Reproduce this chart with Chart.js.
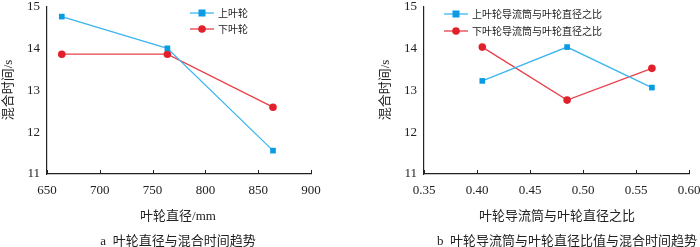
<!DOCTYPE html>
<html><head><meta charset="utf-8">
<script src="https://cdn.jsdelivr.net/npm/chart.js@4/dist/chart.umd.min.js"></script>
<style>
body{margin:0;background:#fff;width:700px;height:247px;overflow:hidden;position:relative;font-family:"Liberation Serif","Noto Sans CJK SC",serif;color:#222;}
.pane{position:absolute;top:0;width:350px;height:247px;}
canvas{position:absolute;left:0;top:0;}
.t{position:absolute;font-size:13px;font-weight:normal;white-space:nowrap;transform:translate(-50%,-50%);}
</style></head><body>
<div class="pane" style="left:0"><canvas id="c1" width="350" height="247"></canvas>
<div class="t" style="left:178px;top:214px">叶轮直径/mm</div>
<div class="t" style="left:178px;top:239px">a&nbsp;&nbsp;叶轮直径与混合时间趋势</div>
</div>
<div class="pane" style="left:350px"><canvas id="c2" width="350" height="247"></canvas>
<div class="t" style="left:207px;top:214px">叶轮导流筒与叶轮直径之比</div>
<div class="t" style="left:217px;top:239px">b&nbsp;&nbsp;叶轮导流筒与叶轮直径比值与混合时间趋势</div>
</div>
<script>
// Chart a
const diameters = [664, 764, 864];
const upperA = [14.77, 14.01, 11.56];
const lowerA = [13.87, 13.87, 12.60];
const labelsA = ['上叶轮', '下叶轮'];
// Chart b
const ratios = [0.405, 0.485, 0.565];
const upperB = [13.23, 14.04, 13.07];
const lowerB = [14.04, 12.77, 13.53];
const labelsB = ['上叶轮导流筒与叶轮直径之比', '下叶轮导流筒与叶轮直径之比'];
const yTicks = [11, 12, 13, 14, 15];
const yTitle = '混合时间/s';

const BLUE_L = '#3db5ee', BLUE_M = '#0b9be3', RED_L = '#e8404a', RED_M = '#e2202b';
const FONT = '"Liberation Serif","Noto Sans CJK SC",serif';

const innerTicks = {
  id: 'innerTicks',
  afterDraw(chart) {
    const ctx = chart.ctx, x = chart.scales.x, y = chart.scales.y;
    ctx.save();
    ctx.strokeStyle = '#222'; ctx.lineWidth = 1;
    ctx.beginPath();
    x.ticks.forEach(t => {
      const px = Math.round(x.getPixelForValue(t.value)) + 0.5;
      ctx.moveTo(px, y.bottom); ctx.lineTo(px, y.bottom - 4);
    });
    ctx.stroke();
    ctx.restore();
  }
};
const customLegend = {
  id: 'customLegend',
  afterDraw(chart, args, opts) {
    const ctx = chart.ctx;
    ctx.save();
    chart.data.datasets.forEach((ds, i) => {
      const yy = opts.y + i * opts.gap;
      ctx.strokeStyle = ds.borderColor; ctx.lineWidth = 1.3;
      ctx.beginPath(); ctx.moveTo(opts.x, yy); ctx.lineTo(opts.x + 24, yy); ctx.stroke();
      ctx.fillStyle = ds.pointBackgroundColor;
      const cx = opts.x + 12;
      if (ds.pointStyle === 'rect') ctx.fillRect(cx - 3.5, yy - 3.5, 7, 7);
      else { ctx.beginPath(); ctx.arc(cx, yy, 3.8, 0, Math.PI * 2); ctx.fill(); }
      ctx.fillStyle = '#222'; ctx.font = '10px "Noto Sans CJK SC",sans-serif';
      ctx.textBaseline = 'middle';
      ctx.fillText(ds.label, opts.x + 28, yy);
    });
    // rotated y-axis title
    ctx.translate(opts.tx, 90);
    ctx.rotate(-Math.PI / 2);
    ctx.fillStyle = '#222'; ctx.font = '13px ' + FONT;
    ctx.textAlign = 'center'; ctx.textBaseline = 'middle';
    ctx.fillText(yTitle, 0, 0);
    ctx.restore();
  }
};

function make(id, xs, s1, s2, labels, xmin, xmax, step, yAxisW, rightPad, legend, fmt) {
  const mk = (vals, lbl, lc, mc, ps, r) => ({
    label: lbl, data: xs.map((x, i) => ({x, y: vals[i]})),
    borderColor: lc, borderWidth: 1.3, pointStyle: ps, pointRadius: r,
    pointBackgroundColor: mc, pointBorderColor: mc, pointBorderWidth: 0, tension: 0
  });
  return new Chart(document.getElementById(id), {
    type: 'line',
    data: { datasets: [
      mk(s1, labels[0], BLUE_L, BLUE_M, 'rect', 4),
      mk(s2, labels[1], RED_L, RED_M, 'circle', 3.8)
    ]},
    options: {
      responsive: false, animation: false, devicePixelRatio: 1,
      layout: { autoPadding: false, padding: { left: 0, top: 7, right: rightPad, bottom: 0 } },
      plugins: { legend: { display: false }, tooltip: { enabled: false }, customLegend: legend },
      scales: {
        x: {
          type: 'linear', min: xmin, max: xmax,
          afterBuildTicks: s => { const t = []; for (let v = xmin; v <= xmax + 1e-9; v += step) t.push({value: +v.toFixed(4)}); s.ticks = t; },
          afterFit: s => { s.height = 73; s.paddingLeft = 0; s.paddingRight = 0; },
          grid: { display: false, drawTicks: false },
          border: { color: '#222', width: 1.2 },
          ticks: { color: '#222', font: { family: FONT, size: 13 }, padding: 9, callback: v => fmt(v), maxRotation: 0 }
        },
        y: {
          min: 11, max: 15,
          afterBuildTicks: s => { s.ticks = yTicks.map(v => ({value: v})); },
          afterFit: s => { s.width = yAxisW; s.paddingTop = 0; s.paddingBottom = 0; },
          grid: { display: false, drawTicks: false },
          border: { color: '#222', width: 1.2 },
          ticks: { color: '#222', font: { family: FONT, size: 13 }, padding: 7 }
        }
      }
    },
    plugins: [innerTicks, customLegend]
  });
}
make('c1', diameters, upperA, lowerA, labelsA, 650, 900, 50, 47, 39, {x: 190, y: 13, gap: 16, tx: 9}, v => String(Math.round(v)));
make('c2', ratios, upperB, lowerB, labelsB, 0.35, 0.60, 0.05, 74, 11, {x: 94, y: 14, gap: 17, tx: 36}, v => v.toFixed(2));
</script>
</body></html>
